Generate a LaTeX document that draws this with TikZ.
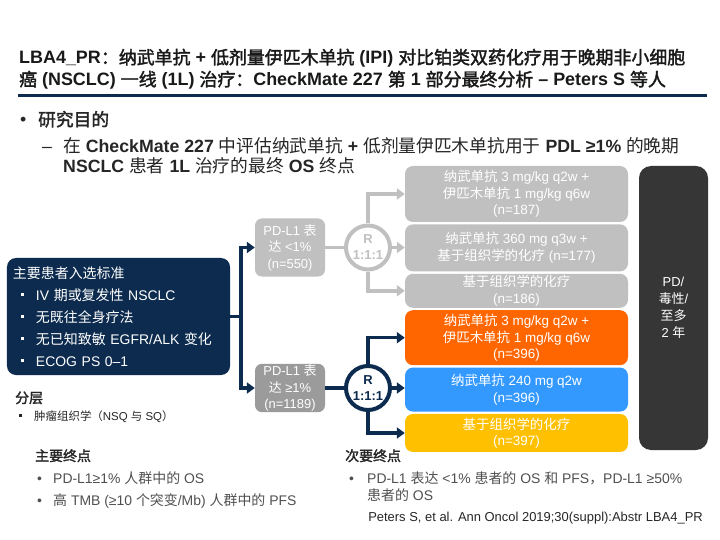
\documentclass[tikz,border=0pt]{standalone}
\usepackage{fontspec}
\usepackage{xcolor}
\usetikzlibrary{arrows.meta, positioning, calc}
\setmainfont{Liberation Sans}
\newfontfamily\cjk{Noto Sans CJK SC}[AutoFakeBold=2]

\XeTeXinterchartokenstate=1
\newXeTeXintercharclass\cjkclass
\newcount\cjkcnt
\cjkcnt="3000
\loop
  \XeTeXcharclass\cjkcnt=\cjkclass
  \advance\cjkcnt by 1
\ifnum\cjkcnt<"A000 \repeat
\cjkcnt="FF00
\loop
  \XeTeXcharclass\cjkcnt=\cjkclass
  \advance\cjkcnt by 1
\ifnum\cjkcnt<"FFF0 \repeat
\XeTeXinterchartoks 0 \cjkclass = {\cjk}
\XeTeXinterchartoks 4095 \cjkclass = {\cjk}
\XeTeXinterchartoks \cjkclass 0 = {\rmfamily}
\XeTeXinterchartoks \cjkclass 4095 = {\rmfamily}

\definecolor{navy}{HTML}{0C2B4E}
\definecolor{lightgrey}{HTML}{C0C0C0}
\definecolor{midgrey}{HTML}{9B9B9B}
\definecolor{darkbox}{HTML}{363636}
\definecolor{armorange}{HTML}{FF6600}
\definecolor{armblue}{HTML}{3399FF}
\definecolor{armyellow}{HTML}{FFC000}
\definecolor{bodytext}{HTML}{262626}
\definecolor{greytext}{HTML}{505050}

\newcommand\sqbul{\rule[0.3em]{3bp}{3bp}\hspace{12bp}}

\begin{document}
\begin{tikzpicture}[
    x=1bp, y=-1bp,
    node distance=2bp,
    armbox/.style={
        rectangle,
        rounded corners=8bp,
        minimum width=223bp,
        inner sep=1bp,
        align=center,
        text=white,
        font=\fontsize{13.5}{16.5}\selectfont
    },
    pdlbox/.style={
        rectangle,
        rounded corners=7bp,
        minimum width=70bp,
        inner sep=1bp,
        align=center,
        text=white,
        font=\fontsize{13}{16.5}\selectfont
    },
    rcirc/.style={
        circle,
        line width=4bp,
        fill=white,
        minimum size=44bp,
        inner sep=0pt,
        align=center,
        font=\bfseries\fontsize{13}{16}\selectfont
    },
    link/.style={
        draw,
        line width=3.5bp
    },
    arrowline/.style={
        link,
        -{Triangle[length=8bp, width=11bp]}
    },
    txt/.style={anchor=base west, inner sep=0pt}
]

    \fill[white] (0,0) rectangle (720,540);
    \useasboundingbox (0,0) rectangle (720,540);

    % title
    \node [txt, font=\bfseries\fontsize{18}{23}\selectfont, text=black!90] (title1) at (19,64)
        {LBA4\_PR：纳武单抗 + 低剂量伊匹木单抗 (IPI) 对比铂类双药化疗用于晚期非小细胞};
    \node [txt, font=\bfseries\fontsize{18}{23}\selectfont, text=black!90] (title2) at (19,86)
        {癌 (NSCLC) 一线 (1L) 治疗：CheckMate 227 第 1 部分最终分析 – Peters S 等人};
    \draw [navy, line width=3bp] (18,96) -- (707,96);

    % aim
    \node [txt, font=\fontsize{17.8}{22}\selectfont, text=bodytext] (bul) at (20,126) {•};
    \node [txt, font=\bfseries\fontsize{17.8}{22}\selectfont, text=bodytext] (aim) at (38,126) {研究目的};
    \node [txt, font=\fontsize{17.8}{22}\selectfont, text=bodytext] (dash) at (42,153) {–};
    \node [txt, font=\fontsize{17.8}{22}\selectfont, text=bodytext] (aim1) at (63,153)
        {在 \textbf{CheckMate 227} 中评估纳武单抗 \textbf{+} 低剂量伊匹木单抗用于 \textbf{PDL ≥1\%} 的晚期};
    \node [txt, font=\fontsize{17.8}{22}\selectfont, text=bodytext] (aim2) at (63,173)
        {\textbf{NSCLC} 患者 \textbf{1L} 治疗的最终 \textbf{OS} 终点};

    % criteria
    \node [rectangle, rounded corners=9bp, fill=navy, text=white, minimum width=223bp,
           minimum height=117bp, text width=211bp, inner xsep=6bp, align=left,
           font=\fontsize{14}{22}\selectfont] (crit) at (118.5,316.5) {
        主要患者入选标准\\
        \hspace*{8bp}\sqbul IV 期或复发性 NSCLC\\
        \hspace*{8bp}\sqbul 无既往全身疗法\\
        \hspace*{8bp}\sqbul 无已知致敏 EGFR/ALK 变化\\
        \hspace*{8bp}\sqbul ECOG PS 0–1
    };

    \node [txt, font=\bfseries\fontsize{14}{18}\selectfont, text=bodytext] (strat) at (15,403) {分层};
    \node [txt, font=\fontsize{11.5}{14}\selectfont, text=bodytext] (strat1) at (19,420)
        {\sqbul 肿瘤组织学（NSQ 与 SQ）};

    % PD-L1 groups
    \node [pdlbox, fill=lightgrey, minimum height=58bp] (lo) at (290,247.5)
        {PD-L1 表\\达 <1\%\\(n=550)};
    \node [pdlbox, fill=midgrey, minimum height=48bp] (hi) at (290,388)
        {PD-L1 表\\达 ≥1\%\\(n=1189)};

    \coordinate (split) at (241,316.5);
    \draw [link, navy] (crit.east) -- (split);
    \draw [arrowline, navy] (split) |- (lo.west);
    \draw [arrowline, navy] (split) |- (hi.west);

    % arms
    \node [armbox, fill=lightgrey, minimum height=56bp] (a1) at (516.5,194)
        {纳武单抗 3 mg/kg q2w +\\伊匹木单抗 1 mg/kg q6w\\(n=187)};
    \node [armbox, fill=lightgrey, minimum height=47bp, below=of a1] (a2)
        {纳武单抗 360 mg q3w +\\基于组织学的化疗 (n=177)};
    \node [armbox, fill=lightgrey, minimum height=34bp, below=of a2] (a3)
        {基于组织学的化疗\\(n=186)};
    \node [armbox, fill=armorange, minimum height=55bp, below=of a3] (a4)
        {纳武单抗 3 mg/kg q2w +\\伊匹木单抗 1 mg/kg q6w\\(n=396)};
    \node [armbox, fill=armblue, minimum height=44bp, below=of a4] (a5)
        {纳武单抗 240 mg q2w\\(n=396)};
    \node [armbox, fill=armyellow, minimum height=38bp, below=of a5] (a6)
        {基于组织学的化疗\\(n=397)};

    \node [rectangle, rounded corners=12bp, fill=darkbox, text=white, minimum width=69bp,
           minimum height=284bp, align=center, font=\fontsize{13}{17}\selectfont] (pd) at (673.5,308)
        {PD/\\毒性/\\至多\\2 年};

    % randomisation
    \node [rcirc, draw=lightgrey, text=lightgrey] (rlo) at (368,247.5) {R\\1:1:1};
    \node [rcirc, draw=navy, text=navy] (rhi) at (368,388) {R\\1:1:1};

    \draw [link, lightgrey] (lo.east) -- (rlo.west);
    \draw [arrowline, lightgrey] (rlo.north) |- (a1.west);
    \draw [arrowline, lightgrey] (rlo.east) -- (rlo.east -| a2.west);
    \draw [arrowline, lightgrey] (rlo.south) |- (a3.west);

    \draw [link, navy] (hi.east) -- (rhi.west);
    \draw [arrowline, navy] (rhi.north) |- (a4.west);
    \draw [arrowline, navy] (rhi.east) -- (rhi.east -| a5.west);
    \draw [arrowline, navy] (rhi.south) |- (a6.west);

    % endpoints
    \node [txt, font=\bfseries\fontsize{14}{17}\selectfont, text=bodytext] (prim) at (35,461) {主要终点};
    \node [txt, font=\fontsize{14}{17}\selectfont, text=greytext] (prim1) at (37,483) {•};
    \node [txt, font=\fontsize{14}{17}\selectfont, text=greytext] (prim1t) at (53,483) {PD-L1≥1\% 人群中的 OS};
    \node [txt, font=\fontsize{14}{17}\selectfont, text=greytext] (prim2) at (37,505) {•};
    \node [txt, font=\fontsize{14}{17}\selectfont, text=greytext] (prim2t) at (53,505) {高 TMB (≥10 个突变/Mb) 人群中的 PFS};

    \node [txt, font=\bfseries\fontsize{14}{17}\selectfont, text=bodytext] (sec) at (345,461) {次要终点};
    \node [txt, font=\fontsize{14}{17}\selectfont, text=greytext] (sec1) at (349,483) {•};
    \node [txt, font=\fontsize{14}{17}\selectfont, text=greytext] (sec1t) at (367,483) {PD-L1 表达 <1\% 患者的 OS 和 PFS，PD-L1 ≥50\%};
    \node [txt, font=\fontsize{14}{17}\selectfont, text=greytext] (sec1u) at (367,500) {患者的 OS};

    \node [anchor=base east, inner sep=0pt, font=\fontsize{13}{15}\selectfont, text=bodytext] (cite) at (703,521)
        {Peters S, et al. Ann Oncol 2019;30(suppl):Abstr LBA4\_PR};

\end{tikzpicture}
\end{document}
